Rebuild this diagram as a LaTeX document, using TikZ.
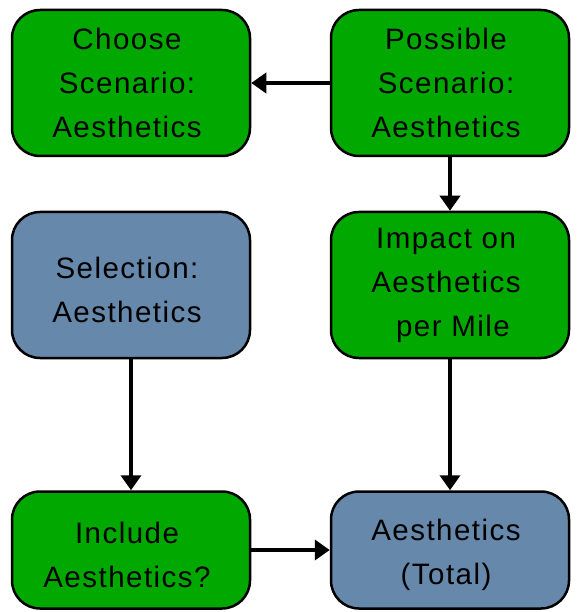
\documentclass[tikz,border=0pt]{standalone}
\usepackage{fontspec}
\setmainfont{Liberation Sans}[LetterSpace=5]
\usetikzlibrary{arrows.meta, positioning}
\definecolor{blockgreen}{RGB}{0,168,0}
\definecolor{blockblue}{RGB}{102,136,170}

\begin{document}
\begin{tikzpicture}[x=1pt,y=-1pt,
    block/.style={draw=black,line width=2.5pt,rounded corners=28pt,minimum width=238pt,inner sep=0pt},
    gblock/.style={block,fill=blockgreen},
    bblock/.style={block,fill=blockblue},
    btext/.style 2 args={label={[align=center,inner sep=0pt,font=\fontsize{29.5}{44}\selectfont,xshift=-4pt,yshift=#1]center:#2}},
    flow/.style={line width=4pt,-{Triangle[length=15pt,width=20pt]}}]
        \useasboundingbox (0,0) rectangle (576,612);
        % Scenario row
        \node[gblock,minimum height=146pt,btext={0pt}{Choose\\Scenario:\\Aesthetics}] (choose) at (131,83) {};
        \node[gblock,minimum height=146pt,btext={0pt}{Possible\\Scenario:\\Aesthetics}] (possible) at (450,83) {};
        % Middle row
        \node[bblock,minimum height=146pt,btext={-5pt}{Selection:\\Aesthetics}] (selection) at (131,285) {};
        \node[gblock,minimum height=146pt,btext={0pt}{Impact on\\Aesthetics\\\hspace{14pt}per Mile}] (impact) at (450,285) {};
        % Bottom row
        \node[gblock,minimum height=117pt,btext={-5pt}{Include\\Aesthetics?}] (include) at (131,550) {};
        \node[bblock,minimum height=117pt,btext={-5pt}{Aesthetics\\(Total)}] (total) at (450,550) {};
        \draw[flow] (possible) -- (choose);
        \draw[flow] (possible) -- (impact);
        \draw[flow] (selection) -- (include);
        \draw[flow] (impact) -- (total);
        \draw[flow] (include) -- (total);
      \end{tikzpicture}
\end{document}
